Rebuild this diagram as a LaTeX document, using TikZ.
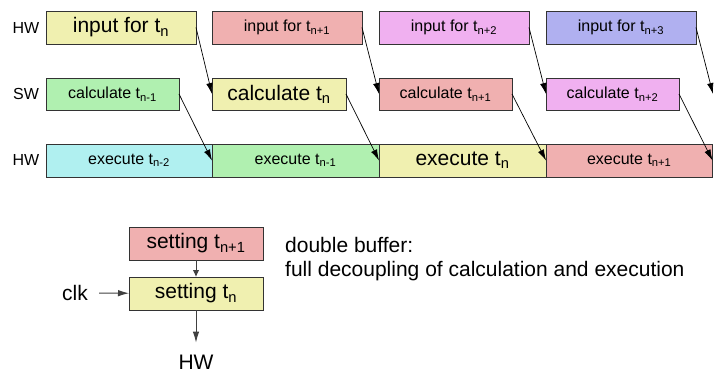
\documentclass[tikz,border=0pt]{standalone}
\usepackage{fontspec}
\setmainfont{Liberation Sans}
\usetikzlibrary{arrows.meta}
\definecolor{cyel}{RGB}{240,240,176}
\definecolor{cred}{RGB}{240,176,176}
\definecolor{cgrn}{RGB}{176,240,176}
\definecolor{ccya}{RGB}{176,240,240}
\definecolor{cmag}{RGB}{240,176,240}
\definecolor{cblu}{RGB}{176,176,240}

\begin{document}
\begin{tikzpicture}[>={Latex[length=11pt,width=6.5pt]}, x=1pt, y=-1pt,
  box/.style={draw=black!80, line width=0.8pt, inner sep=0pt, outer sep=0pt, minimum height=33pt},
  flow/.style={->, line width=0.7pt},
  big/.style={font=\fontsize{21}{23.5}\selectfont},
  small/.style={font=\fontsize{16}{19}\selectfont}]
\useasboundingbox (0,0) rectangle (715,374);

\node[small] (lhwa) at (26,28) {HW};
\node[small] (lsw) at (26,94) {SW};
\node[small] (lhwb) at (26,160) {HW};

% input
\node[box, big, fill=cyel, minimum width=150pt] (in0) at (121,27.5) {input for t\textsubscript{n}};
\node[box, small, fill=cred, minimum width=150pt] (in1) at (287,27.5) {input for t\textsubscript{n+1}};
\node[box, small, fill=cmag, minimum width=150pt] (in2) at (454,27.5) {input for t\textsubscript{n+2}};
\node[box, small, fill=cblu, minimum width=150pt] (in3) at (621,27.5) {input for t\textsubscript{n+3}};

% calculate
\node[box, small, fill=cgrn, minimum width=133pt, minimum height=32pt] (calc0) at (112.5,94) {calculate t\textsubscript{n-1}};
\node[box, big, fill=cyel, minimum width=134pt, minimum height=32pt] (calc1) at (279,94) {calculate t\textsubscript{n}};
\node[box, small, fill=cred, minimum width=133pt, minimum height=32pt] (calc2) at (445.5,94) {calculate t\textsubscript{n+1}};
\node[box, small, fill=cmag, minimum width=133pt, minimum height=32pt] (calc3) at (612.5,94) {calculate t\textsubscript{n+2}};
\coordinate (calc4) at (713,94);

% execute
\node[box, small, fill=ccya, minimum width=166pt] (ex0) at (129,160.5) {execute t\textsubscript{n-2}};
\node[box, small, fill=cgrn, minimum width=167pt] (ex1) at (295.5,160.5) {execute t\textsubscript{n-1}};
\node[box, big, fill=cyel, minimum width=167pt] (ex2) at (462.5,160.5) {execute t\textsubscript{n}};
\node[box, small, fill=cred, minimum width=166.5pt] (ex3) at (629.25,160.5) {execute t\textsubscript{n+1}};

\draw[flow] (in0.east) -- (calc1.west);
\draw[flow] (in1.east) -- (calc2.west);
\draw[flow] (in2.east) -- (calc3.west);
\draw[flow] (in3.east) -- (calc4);
\draw[flow] (calc0.east) -- (ex1.west);
\draw[flow] (calc1.east) -- (ex2.west);
\draw[flow] (calc2.east) -- (ex3.west);
\draw[flow] (calc3.east) -- (ex3.east);

% double buffer
\node[box, big, fill=cred, minimum width=134pt] (set1) at (196,243.5) {setting t\textsubscript{n+1}};
\node[box, big, fill=cyel, minimum width=134pt] (set0) at (196,293.5) {setting t\textsubscript{n}};
\node[big, inner xsep=11pt] (clk) at (75,293) {clk};
\node[big, inner ysep=12pt] (hw) at (196,362) {HW};

\draw[flow, black!75, line width=0.9pt, >={Latex[length=7pt,width=6.5pt]}] (set1) -- (set0);
\draw[flow, black!75, line width=0.9pt] (clk) -- (set0);
\draw[flow, black!75, line width=0.9pt] (set0) -- (hw);

\node[big, align=left, anchor=west, inner sep=0pt] (note) at (285,259) {double buffer:\\full decoupling of calculation and execution};
\end{tikzpicture}
\end{document}
